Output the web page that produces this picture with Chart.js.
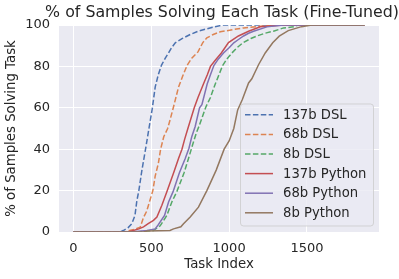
<!DOCTYPE html>
<html>
<head>
<meta charset="utf-8">
<script src="https://cdn.jsdelivr.net/npm/chart.js@4.4.0/dist/chart.umd.min.js"></script>
<style>
  body { margin: 0; background: #fff; }
  #wrap { width: 399px; height: 279px; }
</style>
</head>
<body>
<div id="wrap"><canvas id="chart" width="399" height="279"></canvas></div>
<script>
// tick labels
var xTicks = [0, 500, 1000, 1500];
var yTicks = [0, 20, 40, 60, 80, 100];

var chartTitle = "% of Samples Solving Each Task (Fine-Tuned)";

// series names, in legend order
var seriesNames = ["137b DSL", "68b DSL", "8b DSL", "137b Python", "68b Python", "8b Python"];

// task index / percent pairs
var dsl137X = [0, 300, 320, 350, 375, 395, 407, 420, 440, 463, 485, 507, 525, 545, 565, 590, 611, 630, 654, 700, 750, 800, 850, 900, 962, 1870];
var dsl137Y = [0, 0, 0.7, 2, 4, 8, 15, 20, 30, 40, 50, 60, 70, 76, 80.5, 84, 86.5, 89, 91.4, 93.5, 95.4, 97, 98, 99, 100, 100];

var dsl68X = [0, 330, 360, 400, 429, 450, 470, 490, 510, 525, 545, 560, 580, 605, 620, 643, 675, 700, 730, 760, 800, 830, 857, 898, 943, 1028, 1093, 1200, 1300, 1870];
var dsl68Y = [0, 0, 0.7, 1.5, 2.3, 7, 10, 15, 20, 27, 33, 40, 46, 50, 54, 60.5, 70, 75, 80.5, 84, 87, 91.4, 93.8, 95.4, 96.7, 97.8, 98.6, 99.4, 100, 100];

var dsl8X = [0, 400, 470, 514, 557, 600, 632, 664, 710, 739, 765, 790, 806, 850, 880, 911, 935, 958, 985, 1018, 1050, 1090, 1140, 1179, 1230, 1285, 1350, 1414, 1446, 1870];
var dsl8Y = [0, 0, 0.5, 0.7, 3, 8, 14.5, 19.5, 28.5, 35.5, 42, 48, 51, 60.3, 65, 71.5, 76, 80.4, 83.5, 86.5, 89, 91.5, 93.5, 94.7, 96, 97, 98.6, 99.1, 100, 100];

var py137X = [0, 350, 384, 420, 450, 480, 514, 536, 568, 600, 643, 675, 697, 715, 737, 776, 800, 835, 860, 880, 911, 950, 996, 1060, 1125, 1200, 1350, 1870];
var py137Y = [0, 0, 0.7, 1.5, 2.5, 4, 5.6, 7.2, 12.9, 19.5, 28.5, 35.5, 40, 45, 50.5, 60, 65, 71.5, 76, 80, 83, 86.5, 91.5, 94.7, 97, 99.1, 100, 100];

var py68X = [0, 370, 420, 472, 525, 545, 585, 611, 640, 680, 718, 742, 760, 782, 810, 825, 859, 880, 902, 930, 964, 1000, 1030, 1060, 1093, 1125, 1157, 1243, 1350, 1870];
var py68Y = [0, 0, 0.4, 0.7, 1.5, 3.5, 8, 14.5, 19.5, 28.5, 35.5, 40.5, 46, 51, 60, 61.5, 71.5, 76, 80.4, 83.5, 86.5, 89, 91.4, 93, 94.7, 96, 97, 99.1, 100, 100];

var py8X = [0, 450, 472, 620, 643, 690, 707, 750, 803, 857, 917, 968, 1000, 1030, 1055, 1085, 1125, 1146, 1189, 1232, 1280, 1322, 1380, 1465, 1530, 1870];
var py8Y = [0, 0, 0.5, 0.7, 1.5, 2.5, 4, 7.2, 12, 20, 29.9, 40, 44, 50, 59, 64, 72, 74, 80.8, 86.5, 91.4, 94.6, 97.3, 99.2, 100, 100];

var colors = ["#4C72B0", "#DD8452", "#55A868", "#C44E52", "#8172B3", "#937860"];
var allX = [dsl137X, dsl68X, dsl8X, py137X, py68X, py8X];
var allY = [dsl137Y, dsl68Y, dsl8Y, py137Y, py68Y, py8Y];

function toPoints(xs, ys) {
  var pts = [];
  for (var i = 0; i < xs.length; i++) pts.push({x: xs[i], y: ys[i]});
  return pts;
}

var datasets = seriesNames.map(function (name, i) {
  return {
    label: name,
    data: toPoints(allX[i], allY[i]),
    borderColor: colors[i],
    backgroundColor: colors[i],
    borderWidth: 1.5,
    borderDash: i < 3 ? [5.5, 2.4] : [],
    pointRadius: 0,
    tension: 0,
    fill: false,
    order: 5 - i
  };
});

var FONT = "'DejaVu Sans', sans-serif";
var TEXT = "#262626";

// grey panel behind the grid
var panelBg = {
  id: "panelBg",
  beforeDraw: function (chart) {
    var a = chart.chartArea, ctx = chart.ctx;
    ctx.save();
    ctx.fillStyle = "#EAEAF2";
    ctx.fillRect(a.left, a.top, a.right - a.left, a.bottom - a.top);
    ctx.restore();
  }
};

// title centred over the plot, allowed to run past its edges like matplotlib
var axesTitle = {
  id: "axesTitle",
  afterDraw: function (chart) {
    var a = chart.chartArea, ctx = chart.ctx;
    ctx.save();
    ctx.font = "15.8px " + FONT;
    ctx.fillStyle = TEXT;
    ctx.textAlign = "center";
    ctx.textBaseline = "middle";
    ctx.fillText(chartTitle, (a.left + a.right) / 2 + 3, 12.5);
    ctx.restore();
  }
};

// matplotlib-like legend box in the lower right
var boxLegend = {
  id: "boxLegend",
  afterDraw: function (chart) {
    var ctx = chart.ctx;
    var bx = 240.5, by = 104, bw = 133, bh = 122, r = 3;
    ctx.save();
    ctx.beginPath();
    ctx.moveTo(bx + r, by);
    ctx.arcTo(bx + bw, by, bx + bw, by + bh, r);
    ctx.arcTo(bx + bw, by + bh, bx, by + bh, r);
    ctx.arcTo(bx, by + bh, bx, by, r);
    ctx.arcTo(bx, by, bx + bw, by, r);
    ctx.closePath();
    ctx.fillStyle = "rgba(234,234,242,0.8)";
    ctx.fill();
    ctx.strokeStyle = "rgba(204,204,204,0.8)";
    ctx.lineWidth = 1;
    ctx.stroke();

    ctx.font = "13.2px " + FONT;
    ctx.textBaseline = "middle";
    ctx.fillStyle = TEXT;
    chart.data.datasets.forEach(function (ds, i) {
      var y = 114.8 + i * 19.6;
      ctx.beginPath();
      ctx.setLineDash(ds.borderDash);
      ctx.strokeStyle = ds.borderColor;
      ctx.lineWidth = 1.5;
      ctx.moveTo(245, y);
      ctx.lineTo(273, y);
      ctx.stroke();
      ctx.setLineDash([]);
      ctx.fillText(ds.label, 283, y + 0.5);
    });
    ctx.restore();
  }
};

new Chart(document.getElementById("chart"), {
  type: "line",
  data: { datasets: datasets },
  plugins: [panelBg, axesTitle, boxLegend],
  options: {
    responsive: false,
    animation: false,
    layout: { padding: { top: 25, right: 20 } },
    plugins: {
      legend: { display: false },
      tooltip: { enabled: false },
      title: { display: false }
    },
    scales: {
      x: {
        type: "linear",
        min: -93,
        max: 1963,
        afterBuildTicks: function (s) { s.ticks = xTicks.map(function (v) { return {value: v}; }); },
        afterFit: function (s) { s.height = 47; },
        border: { display: false },
        grid: { color: "#ffffff", lineWidth: 1, drawTicks: false },
        ticks: {
          color: TEXT, padding: 9,
          font: { family: FONT, size: 13 },
          callback: function (v) { return String(v); }
        },
        title: {
          display: true, text: "Task Index", color: TEXT,
          font: { family: FONT, size: 13.3, lineHeight: 1.2 },
          padding: { top: 0, bottom: 6.5 }
        }
      },
      y: {
        type: "linear",
        min: 0,
        max: 100,
        afterBuildTicks: function (s) { s.ticks = yTicks.map(function (v) { return {value: v}; }); },
        afterFit: function (s) { s.width = 59; },
        border: { display: false },
        grid: { color: "#ffffff", lineWidth: 1, drawTicks: false },
        ticks: {
          color: TEXT, padding: 9,
          font: { family: FONT, size: 13 },
          callback: function (v) { return String(v); }
        },
        title: {
          display: true, text: "% of Samples Solving Task", color: TEXT,
          font: { family: FONT, size: 13.3, lineHeight: 1.2 },
          padding: { top: 3.5, bottom: 0 }
        }
      }
    }
  }
});
</script>
</body>
</html>
